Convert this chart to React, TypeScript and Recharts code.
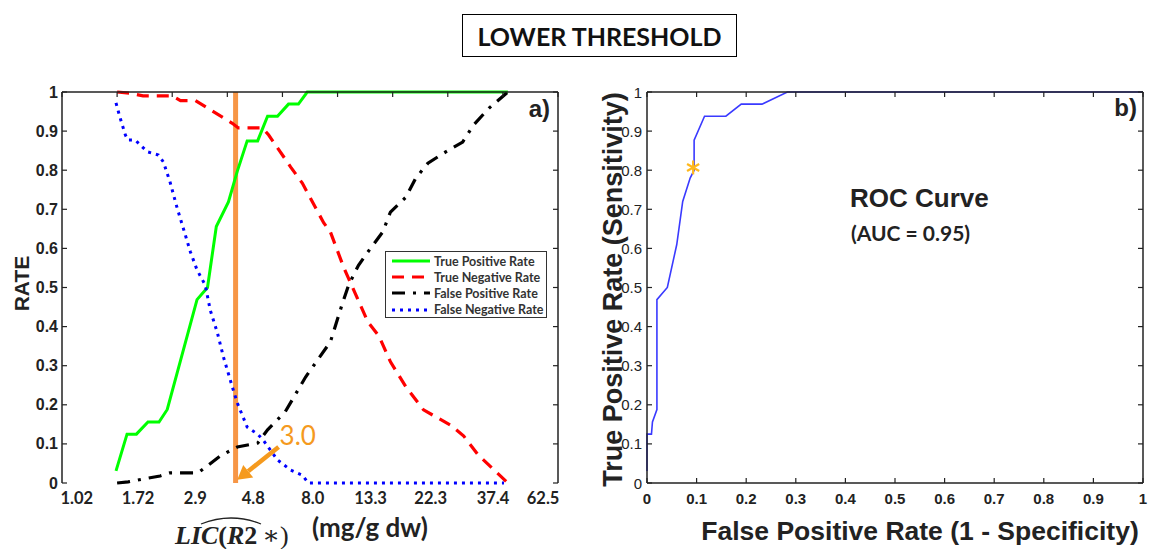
import React from 'react';
import { LineChart, ComposedChart, Line, Scatter, XAxis, YAxis, ReferenceLine, Legend } from 'recharts';

// ---- left panel (a) ----
const X_TICK_POS = [0, 1, 2, 3, 4, 5, 6, 7, 8, 9];
const X_LABEL_POS = [0.27, 1.38, 2.42, 3.47, 4.55, 5.6, 6.69, 7.82, 8.73];
const X_LABELS = ['1.02', '1.72', '2.9', '4.8', '8.0', '13.3', '22.3', '37.4', '62.5'];
const RATE_TICKS = [0, 0.1, 0.2, 0.3, 0.4, 0.5, 0.6, 0.7, 0.8, 0.9, 1];
const RATE_LABELS = ['0', '0.1', '0.2', '0.3', '0.4', '0.5', '0.6', '0.7', '0.8', '0.9', '1'];

const TPR_X = [0.98, 1.18, 1.35, 1.56, 1.76, 1.91, 2.45, 2.64, 2.8, 3.02, 3.18, 3.36, 3.55, 3.73, 3.91, 4.11, 4.29, 4.45, 8.09];
const TPR_Y = [0.031, 0.125, 0.125, 0.156, 0.156, 0.188, 0.469, 0.5, 0.656, 0.719, 0.797, 0.875, 0.875, 0.938, 0.938, 0.969, 0.969, 1, 1];

const TNR_X = [1.0, 1.24, 1.47, 2.0, 2.15, 2.42, 3.09, 3.2, 3.64, 3.75, 4.15, 4.36, 4.75, 4.87, 5.11, 5.55, 5.75, 5.96, 6.24, 6.56, 7.05, 7.29, 7.55, 8.09];
const TNR_Y = [1, 0.997, 0.99, 0.99, 0.978, 0.978, 0.92, 0.908, 0.908, 0.89, 0.808, 0.767, 0.665, 0.642, 0.552, 0.412, 0.376, 0.31, 0.246, 0.187, 0.148, 0.12, 0.072, 0];

const FPR_X = [1.0, 1.2, 1.47, 1.78, 1.96, 2.47, 2.87, 3.18, 3.55, 3.73, 4.05, 4.42, 4.87, 5.09, 5.2, 5.38, 5.55, 5.82, 5.96, 6.24, 6.42, 6.64, 6.93, 7.27, 7.47, 7.75, 8.09];
const FPR_Y = [0, 0.003, 0.01, 0.018, 0.026, 0.026, 0.069, 0.092, 0.102, 0.136, 0.182, 0.271, 0.361, 0.46, 0.506, 0.557, 0.591, 0.642, 0.693, 0.731, 0.78, 0.818, 0.844, 0.872, 0.916, 0.959, 1];

const FNR_X = [0.98, 1.05, 1.15, 1.2, 1.33, 1.55, 1.75, 1.84, 1.96, 2.09, 2.2, 2.33, 2.45, 2.6, 2.69, 2.82, 2.93, 3.09, 3.18, 3.36, 3.55, 3.65, 3.91, 4.15, 4.36, 4.47, 8.02];
const FNR_Y = [0.972, 0.936, 0.89, 0.877, 0.877, 0.847, 0.839, 0.821, 0.77, 0.703, 0.652, 0.591, 0.545, 0.506, 0.442, 0.384, 0.322, 0.246, 0.205, 0.143, 0.125, 0.11, 0.059, 0.033, 0.02, 0, 0];

const THRESHOLD_X = 3.15;
const THRESHOLD_LABEL = '3.0';
const ARROW_FROM = { x: 3.93, y: 0.092 };
const ARROW_TO = { x: 3.18, y: 0.008 };

// ---- right panel (b) ----
const FPR_TICKS = [0, 0.1, 0.2, 0.3, 0.4, 0.5, 0.6, 0.7, 0.8, 0.9, 1];
const FPR_TICK_LABELS = ['0', '0.1', '0.2', '0.3', '0.4', '0.5', '0.6', '0.7', '0.8', '0.9', '1'];
const ROC_X = [0, 0, 0.009, 0.011, 0.02, 0.02, 0.041, 0.06, 0.072, 0.087, 0.095, 0.095, 0.116, 0.159, 0.19, 0.232, 0.283, 1];
const ROC_Y = [0.031, 0.125, 0.125, 0.156, 0.188, 0.469, 0.5, 0.61, 0.72, 0.78, 0.8, 0.877, 0.938, 0.938, 0.969, 0.969, 1, 1];
const OPTIMAL_POINT = [{ x: 0.093, y: 0.807 }];

const toRows = (xs: number[], ys: number[]) => xs.map((x, i) => ({ x, y: ys[i] }));

const ARIAL = '"Liberation Sans", Arial, sans-serif';
const CALIBRI = 'Lato, "Liberation Sans", sans-serif';
const SERIF = '"Liberation Serif", "DejaVu Serif", serif';
const FRAME = '#222';
const TEXT = '#222';

const SERIES = [
  { name: 'True Positive Rate', data: toRows(TPR_X, TPR_Y), color: '#00ff00', dash: undefined, width: 3 },
  { name: 'True Negative Rate', data: toRows(TNR_X, TNR_Y), color: '#ff0000', dash: '12 8', width: 3.2 },
  { name: 'False Positive Rate', data: toRows(FPR_X, FPR_Y), color: '#000000', dash: '13 8 3 8', width: 3.2 },
  { name: 'False Negative Rate', data: toRows(FNR_X, FNR_Y), color: '#0000ff', dash: '3 5', width: 3 },
];

// inward tick marks (matlab box style)
const tickUp = (p: any) => <line x1={p.x} x2={p.x} y1={p.y} y2={p.y - 5} stroke={FRAME} strokeWidth={1.2} />;
const tickDown = (p: any) => <line x1={p.x} x2={p.x} y1={p.y} y2={p.y + 5} stroke={FRAME} strokeWidth={1.2} />;
const tickLeft = (p: any) => <line x1={p.x} x2={p.x - 5} y1={p.y} y2={p.y} stroke={FRAME} strokeWidth={1.2} />;

const rateTickBold = (p: any) => (
  <g>
    <line x1={p.x} x2={p.x + 5} y1={p.y} y2={p.y} stroke={FRAME} strokeWidth={1.2} />
    <text x={p.x - 4} y={p.y} textAnchor="end" dominantBaseline="central" fontFamily={ARIAL} fontWeight="bold" fontSize={16} fill={TEXT}>
      {RATE_LABELS[p.index]}
    </text>
  </g>
);

const rateTickPlain = (p: any) => (
  <g>
    <line x1={p.x} x2={p.x + 5} y1={p.y} y2={p.y} stroke={FRAME} strokeWidth={1.2} />
    <text x={p.x - 5} y={p.y} textAnchor="end" dominantBaseline="central" fontFamily={ARIAL} fontSize={15} fill={TEXT}>
      {RATE_LABELS[p.index]}
    </text>
  </g>
);

const licLabelTick = (p: any) => (
  <text x={p.x} y={p.y + 21} textAnchor="middle" fontFamily={CALIBRI} fontWeight="bold" fontSize={16.5} fill={TEXT}>
    {X_LABELS[p.index]}
  </text>
);

const fprTick = (p: any) => (
  <g>
    <line x1={p.x} x2={p.x} y1={p.y} y2={p.y - 5} stroke={FRAME} strokeWidth={1.2} />
    <text x={p.x} y={p.y + 21} textAnchor="middle" fontFamily={ARIAL} fontWeight="bold" fontSize={15} fill={TEXT}>
      {FPR_TICK_LABELS[p.index]}
    </text>
  </g>
);

const leftXTitle = (props: any) => {
  const { x, y } = props.viewBox;
  return (
    <g>
      <text x={x + 113} y={y + 61} fontFamily={SERIF} fontSize={26} fill={TEXT}>
        <tspan fontStyle="italic" fontWeight="bold">LIC</tspan>
        <tspan fontWeight="bold">(</tspan>
        <tspan fontStyle="italic" fontWeight="bold">R</tspan>
        <tspan fontWeight="bold">2</tspan>
        <tspan dx={5}>∗)</tspan>
      </text>
      <path d={`M${x + 139} ${y + 41} Q${x + 169} ${y + 29} ${x + 199} ${y + 41}`} fill="none" stroke={TEXT} strokeWidth={1.3} />
      <text x={x + 250} y={y + 54} fontFamily={CALIBRI} fontWeight="bold" fontSize={26} fill={TEXT}>(mg/g dw)</text>
    </g>
  );
};

const rateTitle = (props: any) => {
  const { y, height } = props.viewBox;
  const cy = y + height / 2 - 4;
  return (
    <text x={29} y={cy} transform={`rotate(-90, 29, ${cy})`} textAnchor="middle" fontFamily={ARIAL} fontWeight="bold" fontSize={21} fill={TEXT}>
      RATE
    </text>
  );
};

const panelATag = (props: any) => {
  const { x, y, width, height } = props.viewBox;
  return (
    <text x={x + width - 8} y={y + height + 25} textAnchor="end" fontFamily={ARIAL} fontWeight="bold" fontSize={24} fill={TEXT}>a)</text>
  );
};

const panelBTexts = (props: any) => {
  const { x, y, width, height } = props.viewBox;
  const top = y + height;
  return (
    <g>
      <text x={x + width - 6} y={top + 24} textAnchor="end" fontFamily={ARIAL} fontWeight="bold" fontSize={24} fill={TEXT}>b)</text>
      <text x={x + 203} y={top + 115} fontFamily={ARIAL} fontWeight="bold" fontSize={26} fill={TEXT}>ROC Curve</text>
      <text x={x + 204} y={top + 149} fontFamily={CALIBRI} fontWeight="bold" fontSize={21} fill={TEXT}>(AUC = 0.95)</text>
    </g>
  );
};

const tprTitle = (props: any) => {
  const { y, height } = props.viewBox;
  const cy = y + height / 2 + 2;
  return (
    <text x={42} y={cy} transform={`rotate(-90, 42, ${cy})`} textAnchor="middle" fontFamily={ARIAL} fontWeight="bold" fontSize={27} fill={TEXT}>
      True Positive Rate (Sensitivity)
    </text>
  );
};

const fprTitle = (props: any) => {
  const { x, y } = props.viewBox;
  return (
    <text x={x + 273} y={y + 57} textAnchor="middle" fontFamily={ARIAL} fontWeight="bold" fontSize={26.5} fill={TEXT}>
      False Positive Rate (1 - Specificity)
    </text>
  );
};

const thresholdArrow = (p: any) => {
  const { x1, y1, x2, y2 } = p;
  const len = Math.hypot(x2 - x1, y2 - y1) || 1;
  const ux = (x2 - x1) / len;
  const uy = (y2 - y1) / len;
  const bx = x2 - ux * 14;
  const by = y2 - uy * 14;
  return (
    <g>
      <line x1={x1} y1={y1} x2={bx} y2={by} stroke="#f59a1e" strokeWidth={4.5} />
      <polygon points={`${x2},${y2} ${bx - uy * 8},${by + ux * 8} ${bx + uy * 8},${by - ux * 8}`} fill="#f59a1e" />
      <text x={x1 + 1} y={y1 - 2} fontFamily={CALIBRI} fontSize={26} fill="#f59a1e">{THRESHOLD_LABEL}</text>
    </g>
  );
};

const asterisk = (p: any) => {
  const r = 7;
  const arms = [90, 30, -30].map((a) => (a * Math.PI) / 180);
  return (
    <g stroke="#ffb81c" strokeWidth={2.2}>
      {arms.map((a, i) => (
        <line key={i} x1={p.cx - r * Math.cos(a)} y1={p.cy - r * Math.sin(a)} x2={p.cx + r * Math.cos(a)} y2={p.cy + r * Math.sin(a)} />
      ))}
    </g>
  );
};

const legendBox = () => (
  <div style={{ border: '1px solid #333', background: '#fff', boxSizing: 'border-box', width: 162, height: 67, padding: '1px 0 0 0' }}>
    {SERIES.map((s) => (
      <div key={s.name} style={{ display: 'flex', alignItems: 'center', height: 16.2 }}>
        <svg width={48} height={10} style={{ flex: 'none' }}>
          <line x1={6} x2={44} y1={5} y2={5} stroke={s.color} strokeWidth={s.width} strokeDasharray={s.dash} />
        </svg>
        <span style={{ fontFamily: CALIBRI, fontWeight: 700, fontSize: 12.5, color: '#333', whiteSpace: 'nowrap' }}>{s.name}</span>
      </div>
    ))}
  </div>
);

const axisLine = { stroke: FRAME, strokeWidth: 1.5 };

const RatePanel = () => (
  <LineChart width={580} height={549} margin={{ top: 0, right: 0, bottom: 0, left: 0 }}>
    <XAxis xAxisId="ticks" type="number" dataKey="x" domain={[0, 9]} ticks={X_TICK_POS} interval={0} height={0} tickSize={0} tickMargin={0} tickLine={false} tick={tickUp} axisLine={axisLine} />
    <XAxis xAxisId="labels" type="number" dataKey="x" domain={[0, 9]} allowDataOverflow ticks={X_LABEL_POS} interval={0} height={66} tickSize={0} tickMargin={0} tickLine={false} axisLine={false} tick={licLabelTick} label={leftXTitle} />
    <XAxis xAxisId="top" orientation="top" type="number" dataKey="x" domain={[0, 9]} allowDataOverflow ticks={X_TICK_POS} interval={0} height={92} tickSize={0} tickMargin={0} tickLine={false} tick={tickDown} axisLine={axisLine} label={panelATag} />
    <YAxis yAxisId="l" type="number" domain={[0, 1]} ticks={RATE_TICKS} interval={0} width={62} tickSize={0} tickMargin={0} tickLine={false} tick={rateTickBold} axisLine={axisLine} label={rateTitle} />
    <YAxis yAxisId="r" orientation="right" type="number" domain={[0, 1]} allowDataOverflow ticks={RATE_TICKS} interval={0} width={22} tickSize={0} tickMargin={0} tickLine={false} tick={tickLeft} axisLine={axisLine} />
    <ReferenceLine xAxisId="ticks" yAxisId="l" x={THRESHOLD_X} stroke="#f79646" strokeWidth={5} />
    {SERIES.map((s) => (
      <Line key={s.name} xAxisId="ticks" yAxisId="l" data={s.data} dataKey="y" name={s.name} type="linear" stroke={s.color} strokeWidth={s.width} strokeDasharray={s.dash} dot={false} activeDot={false} isAnimationActive={false} />
    ))}
    <ReferenceLine xAxisId="ticks" yAxisId="l" segment={[ARROW_FROM, ARROW_TO]} shape={thresholdArrow} ifOverflow="visible" />
    <Legend layout="vertical" align="center" verticalAlign="middle" content={legendBox} wrapperStyle={{ left: 385, top: 251, width: 162, height: 67 }} />
  </LineChart>
);

const RocPanel = () => (
  <ComposedChart width={569} height={549} margin={{ top: 0, right: 0, bottom: 0, left: 0 }}>
    <XAxis xAxisId="b" type="number" dataKey="x" domain={[0, 1]} ticks={FPR_TICKS} interval={0} height={66} tickSize={0} tickMargin={0} tickLine={false} tick={fprTick} axisLine={axisLine} label={fprTitle} />
    <XAxis xAxisId="top" orientation="top" type="number" dataKey="x" domain={[0, 1]} allowDataOverflow ticks={FPR_TICKS} interval={0} height={92} tickSize={0} tickMargin={0} tickLine={false} tick={tickDown} axisLine={axisLine} label={panelBTexts} />
    <YAxis yAxisId="l" type="number" domain={[0, 1]} ticks={RATE_TICKS} interval={0} width={67} tickSize={0} tickMargin={0} tickLine={false} tick={rateTickPlain} axisLine={axisLine} label={tprTitle} />
    <YAxis yAxisId="r" orientation="right" type="number" domain={[0, 1]} allowDataOverflow ticks={RATE_TICKS} interval={0} width={6} tickSize={0} tickMargin={0} tickLine={false} tick={tickLeft} axisLine={axisLine} />
    <Line xAxisId="b" yAxisId="l" data={toRows(ROC_X, ROC_Y)} dataKey="y" type="linear" stroke="#3a3aff" strokeWidth={1.6} dot={false} activeDot={false} isAnimationActive={false} />
    <Scatter xAxisId="b" yAxisId="l" data={OPTIMAL_POINT} dataKey="y" shape={asterisk} isAnimationActive={false} />
  </ComposedChart>
);

export default function App() {
  return (
    <div style={{ position: 'absolute', left: 0, top: 0, width: 1149, height: 549, background: '#fff', overflow: 'hidden' }}>
      <div
        style={{
          position: 'absolute', left: 462, top: 14, width: 275, height: 43, boxSizing: 'border-box',
          border: '1.5px solid #000', display: 'flex', alignItems: 'center', justifyContent: 'center',
          fontFamily: CALIBRI, fontWeight: 'bold', fontSize: 25, color: '#111',
        }}
      >
        LOWER THRESHOLD
      </div>
      <div style={{ position: 'absolute', left: 0, top: 0 }}>
        <RatePanel />
      </div>
      <div style={{ position: 'absolute', left: 580, top: 0 }}>
        <RocPanel />
      </div>
    </div>
  );
}
